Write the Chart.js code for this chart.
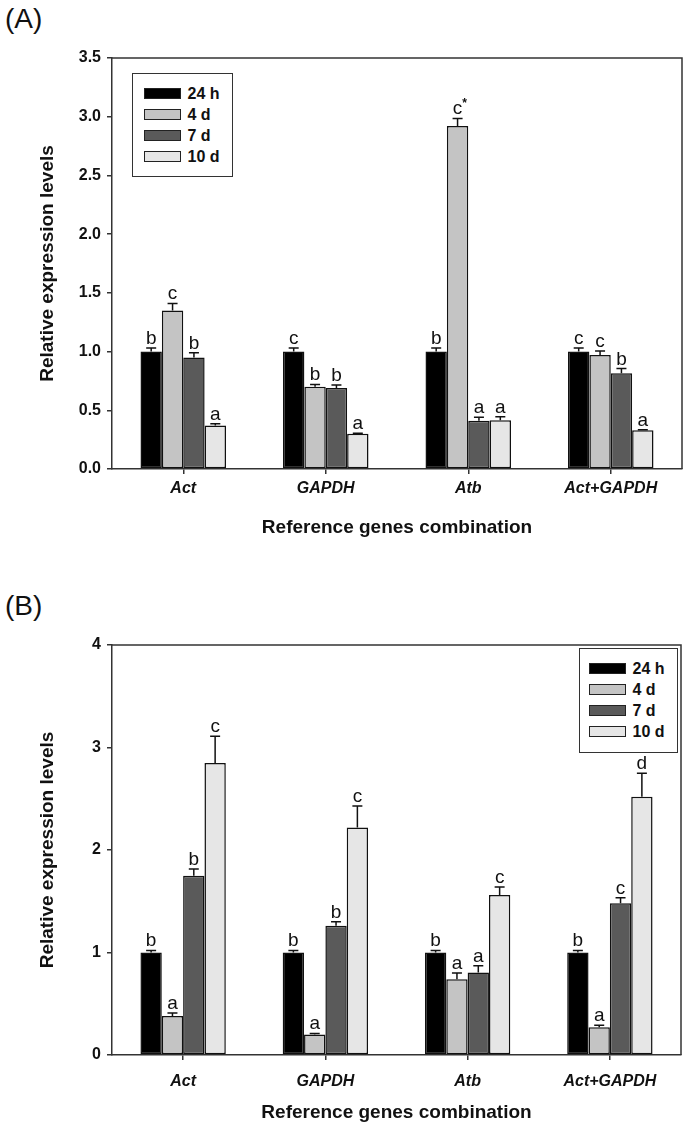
<!DOCTYPE html>
<html>
<head>
<meta charset="utf-8">
<script src="https://cdn.jsdelivr.net/npm/chart.js@4.4.1/dist/chart.umd.min.js"></script>
<style>
  html, body { margin: 0; padding: 0; background: #fff; }
  body { width: 685px; height: 1130px; position: relative; overflow: hidden; font-family: 'Liberation Sans', Arial, sans-serif; }
  .panel-label { position: absolute; font-size: 28px; line-height: 1; color: #111; }
  canvas { position: absolute; left: 0; }
  .legend { position: absolute; box-sizing: border-box; border: 1.5px solid #333; background: #fff; padding-top: 9px; }
  .legend .row { height: 21px; display: flex; align-items: center; }
  .legend .sw { box-sizing: border-box; width: 37px; height: 11px; border: 1.5px solid #222; }
  .legend .tx { font-weight: bold; font-size: 16px; color: #111; margin-left: 7px; }
</style>
</head>
<body>
<div class="panel-label" style="left:5px; top:5px;">(A)</div>
<div class="panel-label" style="left:5px; top:592px;">(B)</div>
<canvas id="chartA" width="685" height="560" style="top:0px;"></canvas>
<canvas id="chartB" width="685" height="550" style="top:580px;"></canvas>
<div class="legend" id="legendA" style="left:132px; top:73px; width:101px; height:104px; padding-left:10.5px;"></div>
<div class="legend" id="legendB" style="left:579px; top:648px; width:99px; height:105px; padding-left:8.5px;"></div>
<script>
// ---------- data ----------
const categories = ['Act', 'GAPDH', 'Atb', 'Act+GAPDH'];
const seriesNames = ['24 h', '4 d', '7 d', '10 d'];

// Panel A
const a24h = [1.00, 1.00, 1.00, 1.00];
const a4d  = [1.35, 0.70, 2.92, 0.97];
const a7d  = [0.95, 0.69, 0.41, 0.815];
const a10d = [0.37, 0.30, 0.415, 0.33];
const aErr24h = [0.03, 0.03, 0.03, 0.03];
const aErr4d  = [0.06, 0.02, 0.065, 0.035];
const aErr7d  = [0.04, 0.025, 0.03, 0.04];
const aErr10d = [0.015, 0.005, 0.03, 0.005];
const aLet24h = ['b', 'c', 'b', 'c'];
const aLet4d  = ['c', 'b', 'c*', 'c'];
const aLet7d  = ['b', 'b', 'a', 'b'];
const aLet10d = ['a', 'a', 'a', 'a'];
const aTickLabels = ['0.0', '0.5', '1.0', '1.5', '2.0', '2.5', '3.0', '3.5'];

// Panel B
const b24h = [1.00, 1.00, 1.00, 1.00];
const b4d  = [0.38, 0.20, 0.74, 0.27];
const b7d  = [1.75, 1.26, 0.805, 1.48];
const b10d = [2.85, 2.22, 1.56, 2.52];
const bErr24h = [0.02, 0.02, 0.02, 0.02];
const bErr4d  = [0.03, 0.01, 0.06, 0.02];
const bErr7d  = [0.065, 0.04, 0.065, 0.055];
const bErr10d = [0.26, 0.21, 0.08, 0.23];
const bLet24h = ['b', 'b', 'b', 'b'];
const bLet4d  = ['a', 'a', 'a', 'a'];
const bLet7d  = ['b', 'b', 'a', 'c'];
const bLet10d = ['c', 'c', 'c', 'd'];
const bTickLabels = ['0', '1', '2', '3', '4'];

// ---------- styling ----------
const fills = ['#000000', '#c4c4c4', '#5a5a5a', '#e6e6e6'];
const FONT = "'Liberation Sans', Arial, sans-serif";

function buildLegend(id) {
  const el = document.getElementById(id);
  seriesNames.forEach((n, i) => {
    const row = document.createElement('div');
    row.className = 'row';
    const sw = document.createElement('div');
    sw.className = 'sw';
    sw.style.background = fills[i];
    const tx = document.createElement('span');
    tx.className = 'tx';
    tx.textContent = n;
    row.appendChild(sw); row.appendChild(tx);
    el.appendChild(row);
  });
}
buildLegend('legendA');
buildLegend('legendB');

const errorPlugin = {
  id: 'errorLetters',
  afterDatasetsDraw(chart) {
    const ctx = chart.ctx;
    const y = chart.scales.y;
    chart.data.datasets.forEach((ds, di) => {
      const meta = chart.getDatasetMeta(di);
      meta.data.forEach((bar, i) => {
        const v = ds.data[i];
        const e = ds.errors[i];
        const x = bar.x;
        const yTop = y.getPixelForValue(v);
        const yErr = y.getPixelForValue(v + e);
        ctx.save();
        ctx.strokeStyle = '#111';
        ctx.lineWidth = 1.5;
        ctx.beginPath();
        ctx.moveTo(x, yTop);
        ctx.lineTo(x, yErr);
        ctx.moveTo(x - 5, yErr);
        ctx.lineTo(x + 5, yErr);
        ctx.stroke();
        // letter
        const lab = ds.letters[i];
        ctx.fillStyle = '#111';
        ctx.textBaseline = 'alphabetic';
        ctx.font = '19px ' + FONT;
        const base = yErr - 4;
        if (lab.endsWith('*')) {
          const main = lab.slice(0, -1);
          const w = ctx.measureText(main).width;
          ctx.textAlign = 'center';
          ctx.fillText(main, x, base);
          ctx.font = 'bold 12px ' + FONT;
          ctx.textAlign = 'left';
          ctx.fillText('*', x + w / 2, base - 7);
        } else {
          ctx.textAlign = 'center';
          ctx.fillText(lab, x, base);
        }
        ctx.restore();
      });
    });
  }
};

const boxPlugin = {
  id: 'frameBox',
  afterDraw(chart) {
    const a = chart.chartArea;
    const ctx = chart.ctx;
    ctx.save();
    ctx.strokeStyle = '#333';
    ctx.lineWidth = 1.5;
    ctx.beginPath();
    ctx.moveTo(a.left, a.top);
    ctx.lineTo(a.right, a.top);
    ctx.lineTo(a.right, a.bottom);
    ctx.stroke();
    ctx.restore();
  }
};

function makeChart(id, vals, errs, lets, tickLabels, yMax, step, opts) {
  const datasets = seriesNames.map((n, i) => ({
    label: n,
    data: vals[i],
    errors: errs[i],
    letters: lets[i],
    backgroundColor: fills[i],
    borderColor: '#111',
    borderWidth: 1.5,
    borderSkipped: false,
    barPercentage: 1.0,
    categoryPercentage: 0.6
  }));
  return new Chart(document.getElementById(id), {
    type: 'bar',
    data: { labels: categories, datasets },
    options: {
      responsive: false,
      animation: false,
      events: [],
      layout: { padding: { left: 0, right: opts.padRight, top: opts.padTop, bottom: 0 } },
      plugins: { legend: { display: false }, tooltip: { enabled: false } },
      scales: {
        x: {
          grid: { display: true, drawOnChartArea: false, drawTicks: true, tickLength: 5, offset: false, color: '#333', lineWidth: 1.5 },
          border: { display: true, color: '#333', width: 1.5 },
          ticks: { color: '#111', padding: opts.xTickPad, font: { family: FONT, size: 16, weight: 'bold', style: 'italic' } },
          title: { display: true, text: 'Reference genes combination', color: '#111',
                   font: { family: FONT, size: 19, weight: 'bold' }, padding: { top: 0, bottom: opts.xTitlePadBottom } },
          afterFit(s) { s.height = opts.xHeight; }
        },
        y: {
          min: 0, max: yMax,
          grid: { display: true, drawOnChartArea: false, drawTicks: true, tickLength: 5, color: '#333', lineWidth: 1.5 },
          border: { display: true, color: '#333', width: 1.5 },
          ticks: { stepSize: step, color: '#111', padding: 6,
                   font: { family: FONT, size: 16, weight: 'bold' },
                   callback: (v, idx) => tickLabels[idx] },
          title: { display: true, text: 'Relative expression levels', color: '#111',
                   font: { family: FONT, size: 19, weight: 'bold' }, padding: { top: 36, bottom: 0 } },
          afterFit(s) { s.width = 112; }
        }
      }
    },
    plugins: [errorPlugin, boxPlugin]
  });
}

makeChart('chartA',
  [a24h, a4d, a7d, a10d],
  [aErr24h, aErr4d, aErr7d, aErr10d],
  [aLet24h, aLet4d, aLet7d, aLet10d],
  aTickLabels, 3.5, 0.5,
  { padTop: 58, padRight: 3, xHeight: 91, xTickPad: 5, xTitlePadBottom: 21 });

makeChart('chartB',
  [b24h, b4d, b7d, b10d],
  [bErr24h, bErr4d, bErr7d, bErr10d],
  [bLet24h, bLet4d, bLet7d, bLet10d],
  bTickLabels, 4, 1,
  { padTop: 65, padRight: 4, xHeight: 75, xTickPad: 12, xTitlePadBottom: 6 });
</script>
</body>
</html>
